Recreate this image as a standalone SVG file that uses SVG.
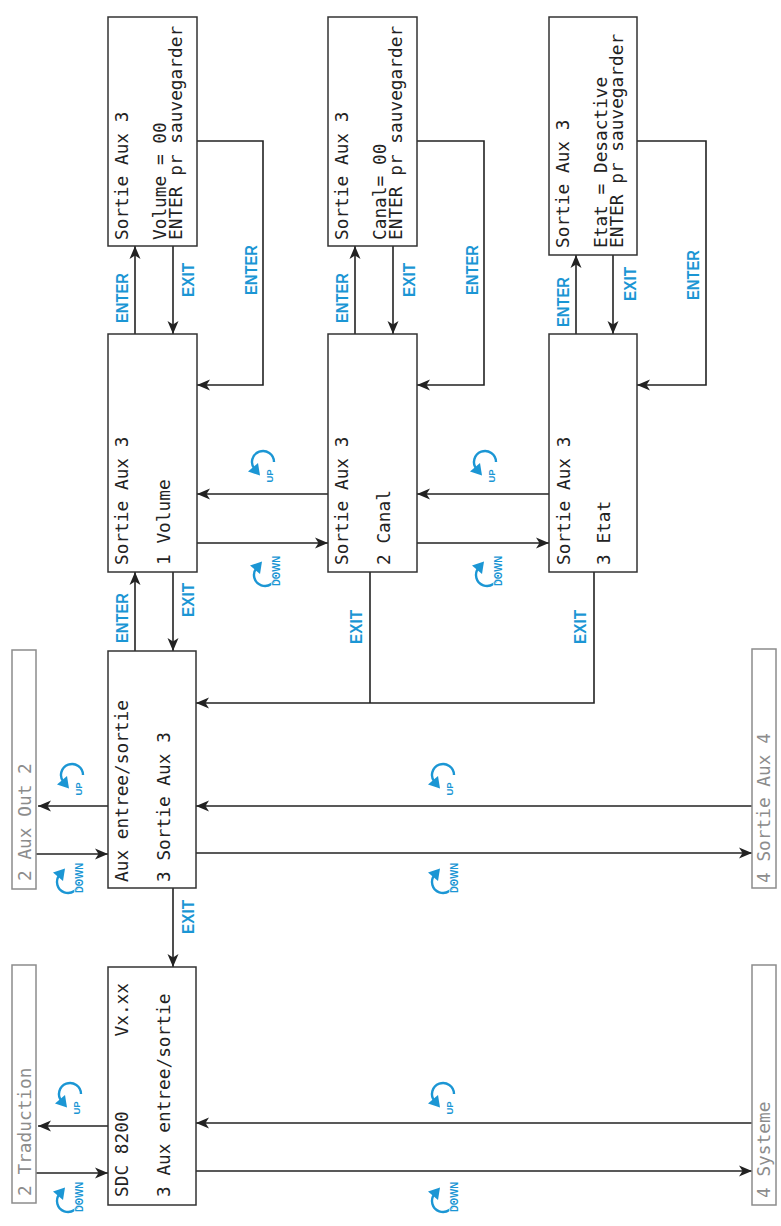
<svg xmlns="http://www.w3.org/2000/svg" xmlns:xlink="http://www.w3.org/1999/xlink" width="781" height="1226" viewBox="0 0 781 1226">
<style>
.box{fill:#fff;stroke:#333;stroke-width:1.5}
.gbox{fill:#fff;stroke:#8c8c8c;stroke-width:1.5}
.lcd{font-family:"DejaVu Sans Mono","Liberation Mono",monospace;font-size:17.8px;fill:#222}
.g{fill:#8c8c8c}
.lbl{font-family:"Liberation Sans",Arial,sans-serif;font-weight:bold;font-size:17px;fill:#1b96d4}
.conn{fill:none;stroke:#222;stroke-width:1.6}
.arr{marker-end:url(#ah)}
.ico{font-family:"Liberation Sans",Arial,sans-serif;font-weight:bold;fill:#1b96d4;stroke:#fff;stroke-width:1.5;paint-order:stroke}
.arc{fill:none;stroke:#1b96d4;stroke-width:2.4}
.tri{fill:#1b96d4}
</style>
<defs>
<marker id="ah" markerUnits="userSpaceOnUse" markerWidth="14" markerHeight="12" refX="13" refY="6" orient="auto">
<path d="M0,0.5 L13,6 L0,11.5 L3.5,6 Z" fill="#222"/>
</marker>
<g id="upIcon">
<path class="arc" d="M11,0 A11,11 0 1 0 -8.43,7.07"/>
<path class="tri" d="M-3,13.5 L-5,1 L-15,9.5 Z"/>
<text class="ico" font-size="9.5" text-anchor="middle" transform="translate(9.5,14) rotate(-90)">UP</text>
</g>
<g id="downIcon">
<path class="arc" d="M11,0 A11,11 0 1 1 -8.43,-7.07"/>
<path class="tri" d="M-3,-13.5 L-5,-1 L-15,-9.5 Z"/>
<text class="ico" font-size="10.5" text-anchor="middle" textLength="30" lengthAdjust="spacingAndGlyphs" transform="translate(15,-4) rotate(-90)">DOWN</text>
</g>
</defs>
<rect width="781" height="1226" fill="#fff"/>

<g id="connectors">
<path class="conn arr" d="M108,1126 H38"/>
<path class="conn arr" d="M36,1173 H108"/>
<path class="conn arr" d="M752,1123 H196"/>
<path class="conn arr" d="M196,1171 H752"/>
<path class="conn arr" d="M173,888 V967"/>
<path class="conn arr" d="M108,806 H38"/>
<path class="conn arr" d="M36,854 H108"/>
<path class="conn arr" d="M752,806 H196"/>
<path class="conn arr" d="M196,853 H752"/>
<path class="conn" d="M370,572 V703"/>
<path class="conn arr" d="M594,572 V703 H196"/>
<path class="conn arr" d="M135,651 V572"/>
<path class="conn arr" d="M173,572 V651"/>
<path class="conn arr" d="M197,543 H328"/>
<path class="conn arr" d="M328,494 H197"/>
<path class="conn arr" d="M417,543 H549"/>
<path class="conn arr" d="M549,494 H417"/>
<path class="conn arr" d="M135,334 V246"/>
<path class="conn arr" d="M173,246 V334"/>
<path class="conn arr" d="M197,141 H263 V385 H197"/>
<path class="conn arr" d="M355,334 V246"/>
<path class="conn arr" d="M393,246 V334"/>
<path class="conn arr" d="M417,141 H484 V385 H417"/>
<path class="conn arr" d="M576,334 V255"/>
<path class="conn arr" d="M613,255 V334"/>
<path class="conn arr" d="M637,141 H706 V385 H637"/>
</g>

<g id="labels">
<text class="lbl" text-anchor="middle" textLength="34" lengthAdjust="spacingAndGlyphs" transform="translate(194,917) rotate(-90)">EXIT</text>
<text class="lbl" text-anchor="middle" textLength="50" lengthAdjust="spacingAndGlyphs" transform="translate(128,618) rotate(-90)">ENTER</text>
<text class="lbl" text-anchor="middle" textLength="34" lengthAdjust="spacingAndGlyphs" transform="translate(194,600) rotate(-90)">EXIT</text>
<text class="lbl" text-anchor="middle" textLength="50" lengthAdjust="spacingAndGlyphs" transform="translate(128,298) rotate(-90)">ENTER</text>
<text class="lbl" text-anchor="middle" textLength="34" lengthAdjust="spacingAndGlyphs" transform="translate(194,280) rotate(-90)">EXIT</text>
<text class="lbl" text-anchor="middle" textLength="50" lengthAdjust="spacingAndGlyphs" transform="translate(257,270) rotate(-90)">ENTER</text>
<text class="lbl" text-anchor="middle" textLength="50" lengthAdjust="spacingAndGlyphs" transform="translate(348,298) rotate(-90)">ENTER</text>
<text class="lbl" text-anchor="middle" textLength="34" lengthAdjust="spacingAndGlyphs" transform="translate(415,280) rotate(-90)">EXIT</text>
<text class="lbl" text-anchor="middle" textLength="50" lengthAdjust="spacingAndGlyphs" transform="translate(478,270) rotate(-90)">ENTER</text>
<text class="lbl" text-anchor="middle" textLength="50" lengthAdjust="spacingAndGlyphs" transform="translate(569,302) rotate(-90)">ENTER</text>
<text class="lbl" text-anchor="middle" textLength="34" lengthAdjust="spacingAndGlyphs" transform="translate(636,284) rotate(-90)">EXIT</text>
<text class="lbl" text-anchor="middle" textLength="50" lengthAdjust="spacingAndGlyphs" transform="translate(699,275) rotate(-90)">ENTER</text>
<text class="lbl" text-anchor="middle" textLength="34" lengthAdjust="spacingAndGlyphs" transform="translate(362,627) rotate(-90)">EXIT</text>
<text class="lbl" text-anchor="middle" textLength="34" lengthAdjust="spacingAndGlyphs" transform="translate(586,627) rotate(-90)">EXIT</text>
</g>

<g id="icons">
<use xlink:href="#upIcon" x="70" y="1094"/>
<use xlink:href="#downIcon" x="68" y="1201"/>
<use xlink:href="#upIcon" x="72" y="775"/>
<use xlink:href="#downIcon" x="68" y="882"/>
<use xlink:href="#upIcon" x="443" y="1094"/>
<use xlink:href="#downIcon" x="443" y="1201"/>
<use xlink:href="#upIcon" x="443" y="775"/>
<use xlink:href="#downIcon" x="443" y="882"/>
<use xlink:href="#upIcon" x="263" y="462"/>
<use xlink:href="#downIcon" x="265" y="575"/>
<use xlink:href="#upIcon" x="485" y="462"/>
<use xlink:href="#downIcon" x="487" y="575"/>
</g>

<g id="node-sdc">
<rect class="box" x="108" y="967" width="88" height="238"/>
<text class="lcd" transform="translate(128,1197) rotate(-90)">SDC 8200</text>
<text class="lcd" text-anchor="end" transform="translate(128,983) rotate(-90)">Vx.xx</text>
<text class="lcd" transform="translate(170,1197) rotate(-90)">3 Aux entree/sortie</text>
</g>
<g id="node-traduction">
<rect class="gbox" x="12" y="965" width="24" height="238"/>
<text class="lcd g" transform="translate(31,1196) rotate(-90)">2 Traduction</text>
</g>
<g id="node-systeme">
<rect class="gbox" x="752" y="965" width="24" height="240"/>
<text class="lcd g" transform="translate(770,1198) rotate(-90)">4 Systeme</text>
</g>
<g id="node-aux">
<rect class="box" x="108" y="651" width="88" height="237"/>
<text class="lcd" transform="translate(128,882) rotate(-90)">Aux entree/sortie</text>
<text class="lcd" transform="translate(170,882) rotate(-90)">3 Sortie Aux 3</text>
</g>
<g id="node-auxout2">
<rect class="gbox" x="12" y="650" width="24" height="239"/>
<text class="lcd g" transform="translate(31,881) rotate(-90)">2 Aux Out 2</text>
</g>
<g id="node-sortieaux4">
<rect class="gbox" x="752" y="649" width="24" height="239"/>
<text class="lcd g" transform="translate(770,883) rotate(-90)">4 Sortie Aux 4</text>
</g>
<g id="node-volume">
<rect class="box" x="108" y="334" width="89" height="238"/>
<text class="lcd" transform="translate(128,565) rotate(-90)">Sortie Aux 3</text>
<text class="lcd" transform="translate(170,565) rotate(-90)">1 Volume</text>
</g>
<g id="node-volume-set">
<rect class="box" x="108" y="17" width="89" height="229"/>
<text class="lcd" transform="translate(128,240) rotate(-90)">Sortie Aux 3</text>
<text class="lcd" transform="translate(166,240) rotate(-90)">Volume = 00</text>
<text class="lcd" transform="translate(182,240) rotate(-90)">ENTER pr sauvegarder</text>
</g>
<g id="node-canal">
<rect class="box" x="328" y="334" width="89" height="238"/>
<text class="lcd" transform="translate(348,565) rotate(-90)">Sortie Aux 3</text>
<text class="lcd" transform="translate(390,565) rotate(-90)">2 Canal</text>
</g>
<g id="node-canal-set">
<rect class="box" x="328" y="17" width="89" height="229"/>
<text class="lcd" transform="translate(348,240) rotate(-90)">Sortie Aux 3</text>
<text class="lcd" transform="translate(386,240) rotate(-90)">Canal= 00</text>
<text class="lcd" transform="translate(402,240) rotate(-90)">ENTER pr sauvegarder</text>
</g>
<g id="node-etat">
<rect class="box" x="549" y="334" width="88" height="238"/>
<text class="lcd" transform="translate(570,565) rotate(-90)">Sortie Aux 3</text>
<text class="lcd" transform="translate(610,565) rotate(-90)">3 Etat</text>
</g>
<g id="node-etat-set">
<rect class="box" x="549" y="17" width="88" height="238"/>
<text class="lcd" transform="translate(569,248) rotate(-90)">Sortie Aux 3</text>
<text class="lcd" transform="translate(607,248) rotate(-90)">Etat = Desactive</text>
<text class="lcd" transform="translate(623,248) rotate(-90)">ENTER pr sauvegarder</text>
</g>
</svg>
